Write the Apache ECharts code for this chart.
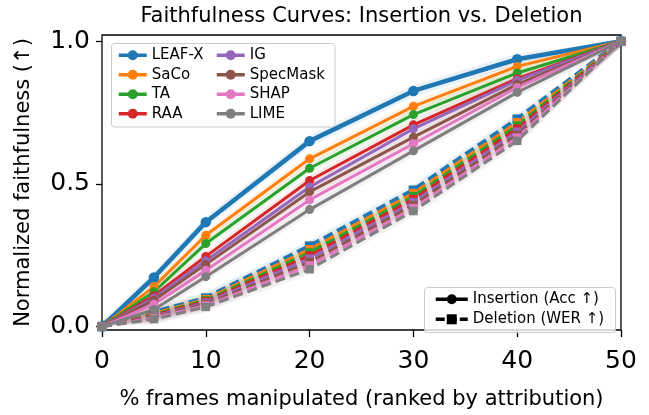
<!DOCTYPE html>
<html><head><meta charset="utf-8">
<script src="https://cdn.jsdelivr.net/npm/echarts@6/dist/echarts.min.js"></script>
<style>html,body{margin:0;padding:0;background:#fff}#c{width:649px;height:415px}</style>
</head><body><div id="c"></div>
<script>
// ---------- data ----------
const xs = [0, 5, 10, 20, 30, 40, 50];
const methods = ['LEAF-X', 'SaCo', 'TA', 'RAA', 'IG', 'SpecMask', 'SHAP', 'LIME'];
const yTicks = [0, 0.5, 1.0];

// Insertion (Acc ↑)
const insLEAFX    = [0, 0.172, 0.366, 0.650, 0.826, 0.937, 1.0];
const insSaCo     = [0, 0.140, 0.320, 0.588, 0.772, 0.912, 1.0];
const insTA       = [0, 0.122, 0.291, 0.555, 0.743, 0.889, 1.0];
const insRAA      = [0, 0.108, 0.246, 0.512, 0.707, 0.869, 1.0];
const insIG       = [0, 0.100, 0.231, 0.489, 0.693, 0.863, 1.0];
const insSpecMask = [0, 0.092, 0.218, 0.472, 0.664, 0.849, 1.0];
const insSHAP     = [0, 0.078, 0.197, 0.444, 0.641, 0.838, 1.0];
const insLIME     = [0, 0.060, 0.175, 0.410, 0.616, 0.821, 1.0];

// Deletion (WER ↑)
const delLEAFX    = [0, 0.050, 0.100, 0.282, 0.478, 0.727, 1.0];
const delSaCo     = [0, 0.046, 0.096, 0.271, 0.468, 0.716, 1.0];
const delTA       = [0, 0.043, 0.092, 0.260, 0.457, 0.705, 1.0];
const delRAA      = [0, 0.040, 0.088, 0.249, 0.447, 0.694, 1.0];
const delIG       = [0, 0.036, 0.084, 0.238, 0.436, 0.683, 1.0];
const delSpecMask = [0, 0.033, 0.079, 0.226, 0.426, 0.672, 1.0];
const delSHAP     = [0, 0.030, 0.074, 0.214, 0.415, 0.662, 1.0];
const delLIME     = [0, 0.026, 0.069, 0.201, 0.405, 0.651, 1.0];

// spread (half-width of shaded band)
const insSpread = [0.02, 0.018, 0.018, 0.018, 0.018, 0.018, 0.018, 0.018];
const delSpread = [0.02, 0.018, 0.018, 0.018, 0.018, 0.018, 0.018, 0.018];

const insertion = [insLEAFX, insSaCo, insTA, insRAA, insIG, insSpecMask, insSHAP, insLIME];
const deletion  = [delLEAFX, delSaCo, delTA, delRAA, delIG, delSpecMask, delSHAP, delLIME];
const insName = 'Insertion (Acc ↑)';
const delName = 'Deletion (WER ↑)';
const titleText = 'Faithfulness Curves: Insertion vs. Deletion';

// ---------- style ----------
const colors = ['#1f77b4', '#ff7f0e', '#2ca02c', '#d62728', '#9467bd', '#8c564b', '#e377c2', '#7f7f7f'];
const FONT = 'DejaVu Sans';

function bandSeries(vals, spread, color) {
  return {
    type: 'custom', silent: true, z: 1, animation: false,
    data: xs.map((x, i) => [x, Math.max(0, vals[i] - spread), Math.min(1, vals[i] + spread)]),
    encode: { x: 0, y: [1, 2] },
    renderItem: function (params, api) {
      if (params.dataIndexInside !== 0) return null;
      const n = params.dataInsideLength;
      const top = [], bot = [];
      for (let i = 0; i < n; i++) {
        top.push(api.coord([api.value(0, i), api.value(2, i)]));
        bot.push(api.coord([api.value(0, i), api.value(1, i)]));
      }
      return { type: 'polygon', shape: { points: top.concat(bot.reverse()) },
               style: { fill: color, opacity: 0.1 }, silent: true };
    }
  };
}

const series = [];
methods.forEach((m, k) => {
  series.push(bandSeries(insertion[k], insSpread[k], colors[k]));
  series.push(bandSeries(deletion[k], delSpread[k], colors[k]));
});
methods.forEach((m, k) => {
  const lw = k === 0 ? 4.5 : 3;
  const ms = k === 0 ? 10.5 : 9;
  series.push({
    name: m, type: 'line', z: 2, animation: false,
    data: xs.map((x, i) => [x, insertion[k][i]]),
    symbol: 'circle', symbolSize: ms, showSymbol: true,
    lineStyle: { width: lw, color: colors[k] },
    itemStyle: { color: colors[k] }
  });
  series.push({
    name: m + ' – ' + delName, type: 'line', z: 2, animation: false,
    data: xs.map((x, i) => [x, deletion[k][i]]),
    symbol: 'rect', symbolSize: k === 0 ? 9.5 : 8.5,
    lineStyle: { width: lw, color: colors[k], type: [10, 5] },
    itemStyle: { color: colors[k] }
  });
});
series.push({ name: insName, type: 'line', data: [], symbol: 'circle',
  lineStyle: { width: 3, color: '#000' }, itemStyle: { color: '#000' } });
series.push({ name: delName, type: 'line', data: [], symbol: 'rect',
  lineStyle: { width: 3, color: '#000', type: [9, 3] }, itemStyle: { color: '#000' } });

const legendText = { fontSize: 15, color: '#000', fontFamily: FONT, lineHeight: 19.5 };

// centre title over plot area
const mctx = document.createElement('canvas').getContext('2d');
mctx.font = '21px "DejaVu Sans"';
const titleW = mctx.measureText(titleText).width;
const plotCenter = 102 + (649 - 102 - 28) / 2;

const option = {
  backgroundColor: '#fff',
  animation: false,
  textStyle: { fontFamily: FONT },
  title: {
    text: titleText,
    left: plotCenter - titleW / 2, top: 6, padding: 0,
    textStyle: { fontSize: 21, fontWeight: 'normal', color: '#000', fontFamily: FONT }
  },
  grid: {
    left: 102, right: 28, top: 35, bottom: 77,
    show: true, borderColor: '#000', borderWidth: 1.3, backgroundColor: 'transparent',
    containLabel: false
  },
  xAxis: {
    type: 'value', min: 0, max: 50, interval: 10,
    axisLine: { show: false, onZero: false },
    axisTick: { show: true, length: 7, lineStyle: { color: '#000', width: 1.3 } },
    splitLine: { show: false },
    axisLabel: { fontSize: 25, color: '#000', margin: 19, fontFamily: FONT },
    name: '% frames manipulated (ranked by attribution)',
    nameLocation: 'middle', nameGap: 59,
    nameTextStyle: { fontSize: 21, color: '#000', fontFamily: FONT }
  },
  yAxis: {
    type: 'value', min: -0.012, max: 1.022,
    axisLine: { show: false, onZero: false },
    axisTick: { show: true, length: 6, customValues: yTicks, lineStyle: { color: '#000', width: 1.3 } },
    splitLine: { show: false },
    axisLabel: { fontSize: 25, color: '#000', margin: 12, fontFamily: FONT,
      customValues: yTicks, formatter: v => Number(v).toFixed(1) },
    name: 'Normalized faithfulness (↑)',
    nameLocation: 'middle', nameGap: 68,
    nameTextStyle: { fontSize: 21, color: '#000', fontFamily: FONT }
  },
  legend: [
    { data: methods.slice(0, 4), orient: 'vertical', left: 117, top: 45.5, padding: 0,
      itemWidth: 28, itemHeight: 12.5, itemGap: 0, selectedMode: false, textStyle: legendText,
      lineStyle: { width: 3.5 } },
    { data: methods.slice(4), orient: 'vertical', left: 215, top: 45.5, padding: 0,
      itemWidth: 28, itemHeight: 12.5, itemGap: 0, selectedMode: false, textStyle: legendText,
      lineStyle: { width: 3.5 } },
    { data: [insName, delName], orient: 'vertical', left: 434, top: 289.3, padding: 0,
      itemWidth: 32, itemHeight: 12.5, itemGap: 0, selectedMode: false,
      textStyle: Object.assign({}, legendText, { lineHeight: 20 }), lineStyle: { width: 3.5 } }
  ],
  graphic: [
    { type: 'rect', z: 3, silent: true,
      shape: { x: 111.5, y: 43.5, width: 223.5, height: 83.5, r: 3 },
      style: { fill: 'rgba(255,255,255,0.8)', stroke: '#cccccc', lineWidth: 1 } },
    { type: 'rect', z: 3, silent: true,
      shape: { x: 424.5, y: 287.5, width: 191, height: 45, r: 3 },
      style: { fill: 'rgba(255,255,255,0.8)', stroke: '#cccccc', lineWidth: 1 } }
  ],
  series: series
};

const chart = echarts.init(document.getElementById('c'), null, { renderer: 'canvas' });
chart.setOption(option);
</script>
</body></html>
